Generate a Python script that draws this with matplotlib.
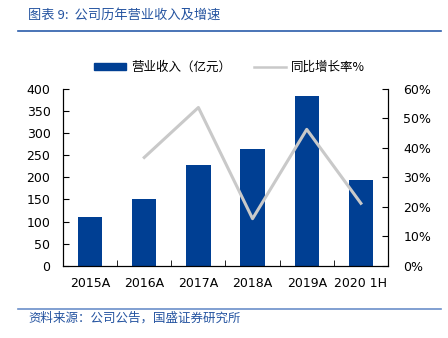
import matplotlib.pyplot as plt
import matplotlib.lines as mlines
import matplotlib.patches as mpatches
import numpy as np

plt.rcParams['font.family'] = ['DejaVu Sans', 'Noto Sans CJK SC']

years = ['2015A', '2016A', '2017A', '2018A', '2019A', '2020 1H']
revenue = [111, 150, 228, 263, 384, 194]
growth = [np.nan, 36.7, 53.6, 16.0, 46.2, 21.2]

blue = '#003f93'
gray = '#c9c9c9'
txtblue = '#2453a0'

fig = plt.figure(figsize=(4.48, 3.38), dpi=100)
ax = fig.add_axes([0.1406, 0.213, 0.7254, 0.525])
x = np.arange(len(years))
ax.bar(x, revenue, width=0.45, color=blue, zorder=2)
ax.set_xlim(-0.5, len(years) - 0.5)
ax.set_ylim(0, 400)
ax.set_yticks(range(0, 401, 50))
ax.set_xticks(x)
ax.set_xticklabels(years)
ax.tick_params(axis='x', length=0, labelsize=9, pad=8)
ax.tick_params(axis='y', direction='in', length=4, labelsize=9, pad=9)
ax.set_xticks(np.arange(0.5, len(years) - 0.5), minor=True)
ax.tick_params(axis='x', which='minor', direction='in', length=4)
ax.spines['top'].set_visible(False)

ax2 = ax.twinx()
ax2.plot(x, growth, color=gray, lw=2.2, zorder=3)
ax2.set_ylim(0, 60)
ax2.set_yticks(range(0, 61, 10))
ax2.set_yticklabels([f'{v}%' for v in range(0, 61, 10)])
ax2.tick_params(axis='y', direction='in', length=4, labelsize=9, pad=11)
ax2.spines['top'].set_visible(False)

cjk = ['Noto Sans CJK SC', 'DejaVu Sans']
h1 = mpatches.Patch(color=blue)
h2 = mlines.Line2D([], [], color=gray, lw=1.8)
fig.legend([h1, h2], ['营业收入（亿元）', '同比增长率%'], ncol=2, frameon=False,
           loc='center', bbox_to_anchor=(0.512, 0.801), prop={'family': cjk, 'size': 9},
           handlelength=2.6, handleheight=0.55, handletextpad=0.4, columnspacing=1.8)

fig.text(0.063, 0.955, '图表 9:  公司历年营业收入及增速', family=cjk, size=9.5,
         color=txtblue, va='center', style='italic')
fig.add_artist(mlines.Line2D([0.04, 0.985], [0.908, 0.908], color='#2a5caa', lw=1.2))
fig.add_artist(mlines.Line2D([0.04, 0.985], [0.086, 0.086], color='#6b8fc9', lw=1.2))
fig.text(0.063, 0.058, '资料来源：公司公告，国盛证券研究所', family=cjk, size=9,
         color=txtblue, va='center', style='italic')

fig.savefig('out.png', dpi=100)
